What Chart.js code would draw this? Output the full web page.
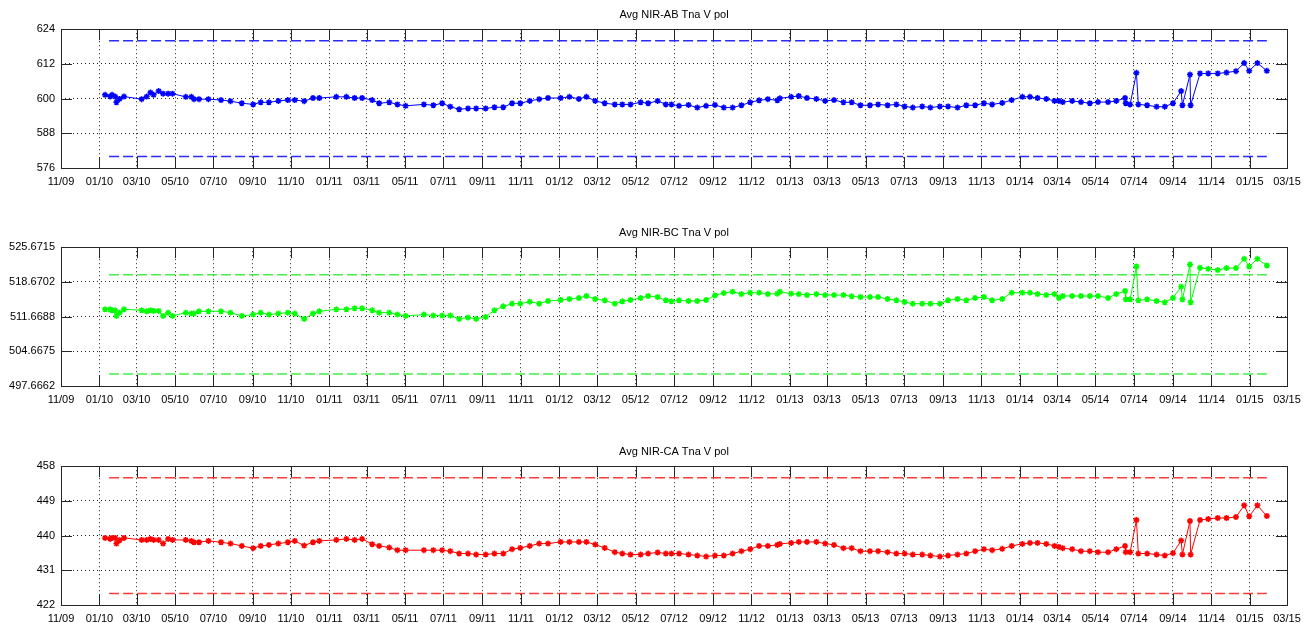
<!DOCTYPE html>
<html>
<head>
<meta charset="utf-8">
<script src="https://cdn.jsdelivr.net/npm/chart.js@4.4.1/dist/chart.umd.min.js"></script>
<style>
    body { margin: 0; background: #fff; overflow: hidden; }
    canvas { position: absolute; left: 0; }
</style>
</head>
<body>
<canvas id="abChart" width="1303" height="186" style="top:0px"></canvas>
<canvas id="bcChart" width="1303" height="186" style="top:218px"></canvas>
<canvas id="caChart" width="1303" height="186" style="top:437px"></canvas>
<script>
// sample dates, shared by the three panels
var dates = [
    '2010-01-10', '2010-01-18', '2010-01-21', '2010-01-26', '2010-01-28', '2010-02-02', '2010-02-09', '2010-03-09',
    '2010-03-17', '2010-03-23', '2010-03-28', '2010-04-05', '2010-04-12', '2010-04-20', '2010-04-27', '2010-05-18',
    '2010-05-27', '2010-05-31', '2010-06-08', '2010-06-23', '2010-07-13', '2010-07-28', '2010-08-15', '2010-09-02',
    '2010-09-14', '2010-09-27', '2010-10-12', '2010-10-27', '2010-11-07', '2010-11-22', '2010-12-06', '2010-12-16',
    '2011-01-12', '2011-01-28', '2011-02-10', '2011-02-22', '2011-03-10', '2011-03-21', '2011-04-06', '2011-04-19',
    '2011-05-02', '2011-05-31', '2011-06-15', '2011-06-29', '2011-07-12', '2011-07-26', '2011-08-09', '2011-08-22',
    '2011-09-06', '2011-09-20', '2011-10-04', '2011-10-18', '2011-10-31', '2011-11-15', '2011-11-30', '2011-12-14',
    '2012-01-03', '2012-01-17', '2012-02-01', '2012-02-13', '2012-02-27', '2012-03-13', '2012-03-29', '2012-04-10',
    '2012-04-23', '2012-05-09', '2012-05-21', '2012-06-05', '2012-06-18', '2012-06-27', '2012-07-09', '2012-07-24',
    '2012-08-07', '2012-08-21', '2012-09-04', '2012-09-18', '2012-10-02', '2012-10-16', '2012-10-30', '2012-11-13',
    '2012-11-27', '2012-12-12', '2012-12-16', '2013-01-03', '2013-01-15', '2013-01-28', '2013-02-12', '2013-02-26',
    '2013-03-12', '2013-03-27', '2013-04-09', '2013-04-23', '2013-05-08', '2013-05-21', '2013-06-05', '2013-06-19',
    '2013-07-02', '2013-07-15', '2013-07-30', '2013-08-12', '2013-08-27', '2013-09-09', '2013-09-24', '2013-10-08',
    '2013-10-22', '2013-11-05', '2013-11-18', '2013-12-04', '2013-12-19', '2014-01-05', '2014-01-17', '2014-01-29',
    '2014-02-12', '2014-02-25', '2014-03-04', '2014-03-10', '2014-03-25', '2014-04-08', '2014-04-22', '2014-05-05',
    '2014-05-21', '2014-06-03', '2014-06-17', '2014-06-18', '2014-06-25', '2014-07-05', '2014-07-08', '2014-07-22',
    '2014-08-06', '2014-08-19', '2014-09-01', '2014-09-14', '2014-09-16', '2014-09-28', '2014-09-29', '2014-10-14',
    '2014-10-27', '2014-11-11', '2014-11-25', '2014-12-10', '2014-12-23', '2014-12-31', '2015-01-13', '2015-01-28'
];

var abValues = [
    601.3, 600.7, 601.3, 600.7, 598.7, 599.9, 600.7, 599.8, 600.7, 602.1, 601.3, 602.6, 601.7, 601.7, 601.7, 600.6,
    600.6, 599.8, 599.8, 599.8, 599.5, 599.1, 598.4, 598.0, 598.7, 598.7, 599.2, 599.5, 599.5, 599.1, 600.2, 600.2,
    600.6, 600.6, 600.2, 600.2, 599.5, 598.4, 598.7, 598.0, 597.5, 598.0, 597.7, 598.4, 597.2, 596.3, 596.6, 596.6,
    596.6, 597.0, 597.0, 598.4, 598.4, 599.2, 599.8, 600.2, 600.2, 600.6, 599.9, 600.6, 599.2, 598.4, 598.0, 598.0,
    598.0, 598.7, 598.4, 599.2, 598.0, 598.0, 597.5, 597.8, 596.9, 597.5, 597.8, 596.9, 596.9, 597.7, 598.7, 599.4,
    599.8, 599.4, 600.1, 600.6, 600.9, 600.2, 599.9, 599.2, 599.5, 598.7, 598.7, 597.7, 597.7, 598.0, 597.7, 598.0,
    597.3, 596.9, 597.3, 596.9, 597.3, 597.3, 596.9, 597.7, 597.7, 598.4, 598.0, 598.5, 599.5, 600.6, 600.6, 600.2,
    599.9, 599.2, 599.2, 598.8, 599.2, 598.8, 598.4, 598.8, 598.8, 599.2, 600.2, 598.4, 598.0, 608.9, 598.0, 597.7,
    597.2, 597.2, 598.4, 602.6, 597.7, 608.3, 597.7, 608.7, 608.7, 608.7, 609.0, 609.5, 612.3, 609.6, 612.3, 609.6
];

var bcValues = [
    513.14, 513.14, 512.94, 512.94, 511.80, 512.47, 513.14, 512.94, 512.74, 512.94, 512.81, 512.81, 511.80, 512.47, 511.80, 512.47,
    512.27, 512.27, 512.74, 512.74, 512.74, 512.47, 511.80, 512.07, 512.47, 512.07, 512.27, 512.47, 512.27, 511.20, 512.27, 512.74,
    513.14, 513.14, 513.34, 513.34, 512.94, 512.47, 512.47, 512.07, 511.80, 512.07, 511.87, 511.87, 511.87, 511.20, 511.47, 511.20,
    511.60, 512.94, 513.74, 514.28, 514.28, 514.68, 514.28, 514.82, 515.02, 515.22, 515.42, 515.82, 515.22, 514.95, 514.28, 514.75,
    515.02, 515.42, 515.82, 515.62, 514.95, 514.75, 514.95, 514.82, 514.82, 515.02, 515.95, 516.42, 516.69, 516.22, 516.49, 516.49,
    516.22, 516.29, 516.69, 516.29, 516.22, 516.02, 516.22, 516.02, 516.02, 516.02, 515.75, 515.62, 515.62, 515.62, 515.22, 514.95,
    514.61, 514.28, 514.28, 514.28, 514.28, 514.95, 515.22, 514.95, 515.42, 515.62, 514.95, 515.22, 516.49, 516.49, 516.49, 516.22,
    516.02, 516.22, 515.42, 515.82, 515.82, 515.82, 515.82, 515.82, 515.42, 516.22, 516.83, 515.15, 515.15, 521.78, 514.95, 515.15,
    514.82, 514.55, 515.42, 517.70, 515.15, 522.19, 514.55, 521.52, 521.31, 521.05, 521.45, 521.45, 523.32, 521.78, 523.32, 521.98
];

var caValues = [
    439.40, 439.14, 439.40, 439.40, 437.93, 438.79, 439.40, 438.88, 438.88, 439.14, 438.88, 438.88, 437.93, 439.14, 438.88, 438.88,
    438.62, 438.28, 438.28, 438.62, 438.28, 437.93, 437.33, 436.73, 437.33, 437.59, 437.93, 438.28, 438.62, 437.42, 438.28, 438.62,
    438.88, 439.14, 438.88, 439.14, 437.76, 437.33, 436.90, 436.21, 436.21, 436.21, 436.21, 436.21, 435.95, 435.35, 435.35, 435.09,
    435.09, 435.35, 435.35, 436.47, 436.81, 437.33, 437.93, 437.93, 438.36, 438.36, 438.36, 438.36, 437.67, 436.81, 435.69, 435.35,
    435.09, 435.09, 435.35, 435.61, 435.35, 435.35, 435.35, 435.09, 434.83, 434.57, 434.83, 434.83, 435.35, 435.95, 436.47, 437.33,
    437.33, 437.59, 437.85, 438.11, 438.36, 438.36, 438.36, 437.93, 437.59, 436.73, 436.73, 435.95, 435.95, 435.95, 435.69, 435.35,
    435.35, 435.09, 435.09, 434.83, 434.57, 434.83, 435.09, 435.35, 435.95, 436.47, 436.21, 436.56, 437.33, 437.85, 438.11, 438.11,
    437.85, 437.33, 437.07, 436.73, 436.47, 435.95, 435.95, 435.69, 435.69, 436.47, 437.33, 435.69, 435.69, 444.05, 435.35, 435.35,
    435.09, 434.83, 435.44, 438.71, 435.09, 443.79, 435.09, 444.05, 444.31, 444.56, 444.56, 444.82, 447.84, 445.00, 447.84, 445.08
];

// lower / upper limit lines
var abLimits = [580, 620];
var bcLimits = [500.1, 520.1];
var caLimits = [425, 455];

// y tick labels
var abTicks = ['576', '588', '600', '612', '624'];
var bcTicks = ['497.6662', '504.6675', '511.6688', '518.6702', '525.6715'];
var caTicks = ['422', '431', '440', '449', '458'];

// x tick labels (mm/yy)
var xTicks = [
    '11/09', '01/10', '03/10', '05/10', '07/10', '09/10', '11/10', '01/11', '03/11', '05/11', '07/11',
    '09/11', '11/11', '01/12', '03/12', '05/12', '07/12', '09/12', '11/12', '01/13', '03/13', '05/13',
    '07/13', '09/13', '11/13', '01/14', '03/14', '05/14', '07/14', '09/14', '11/14', '01/15', '03/15'
];

var DAY0 = Date.UTC(2009, 10, 1);
function dayOf(iso) {
    var p = iso.split('-');
    return (Date.UTC(+p[0], +p[1] - 1, +p[2]) - DAY0) / 86400000;
}
function tickDay(lbl) {
    var p = lbl.split('/');
    return (Date.UTC(2000 + +p[1], +p[0] - 1, 1) - DAY0) / 86400000;
}

var tickFont = { family: 'Liberation Sans, Arial, sans-serif', size: 11 };

// box around plot area with inward tick marks on all four sides
var boxPlugin = {
    id: 'matBox',
    afterDatasetsDraw: function (chart) {
        var ctx = chart.ctx, a = chart.chartArea;
        var xs = chart.scales.x, ys = chart.scales.y, len = 11;
        ctx.save();
        ctx.strokeStyle = '#262626';
        ctx.lineWidth = 1;
        ctx.beginPath();
        xs.ticks.forEach(function (t) {
            var px = Math.round(xs.getPixelForValue(t.value)) + 0.5;
            ctx.moveTo(px, a.top); ctx.lineTo(px, a.top + len);
            ctx.moveTo(px, a.bottom); ctx.lineTo(px, a.bottom - len);
        });
        ys.ticks.forEach(function (t) {
            var py = Math.round(ys.getPixelForValue(t.value)) + 0.5;
            ctx.moveTo(a.left, py); ctx.lineTo(a.left + len, py);
            ctx.moveTo(a.right, py); ctx.lineTo(a.right - len, py);
        });
        ctx.stroke();
        ctx.strokeRect(Math.round(a.left) + 0.5, Math.round(a.top) + 0.5,
            Math.round(a.right - a.left), Math.round(a.bottom - a.top));
        ctx.restore();
    }
};

function makePanel(id, title, values, limits, yTicks, color, dashColor) {
    var first = dayOf(dates[0]), last = dayOf(dates[dates.length - 1]);
    var points = dates.map(function (d, i) { return { x: dayOf(d), y: values[i] }; });
    function limitLine(v) {
        return {
            data: [{ x: first, y: v }, { x: last, y: v }],
            borderColor: dashColor,
            borderWidth: 1.5,
            borderDash: [10, 4],
            borderDashOffset: 10,
            pointRadius: 0
        };
    }
    new Chart(document.getElementById(id).getContext('2d'), {
        type: 'line',
        data: {
            datasets: [{
                data: points,
                borderColor: color,
                backgroundColor: color,
                borderWidth: 1,
                pointStyle: 'star',
                pointRadius: 3,
                pointBorderWidth: 1.5,
                pointBorderColor: color
            }, limitLine(limits[0]), limitLine(limits[1])]
        },
        options: {
            responsive: false,
            animation: false,
            devicePixelRatio: 1,
            layout: { padding: { left: 0, right: 16, top: 0, bottom: 0 } },
            plugins: {
                legend: { display: false },
                tooltip: { enabled: false },
                title: {
                    display: true,
                    text: title,
                    fullSize: false,
                    color: '#000',
                    font: { family: 'Liberation Sans, Arial, sans-serif', size: 11, weight: 'normal' },
                    padding: { top: 8, bottom: 8 }
                }
            },
            scales: {
                x: {
                    type: 'linear',
                    min: tickDay(xTicks[0]),
                    max: tickDay(xTicks[xTicks.length - 1]),
                    afterBuildTicks: function (s) {
                        s.ticks = xTicks.map(function (l) { return { value: tickDay(l) }; });
                    },
                    afterFit: function (s) {
                        s.height = 18;
                        s.paddingLeft = 0;
                        s.paddingRight = 0;
                    },
                    ticks: {
                        autoSkip: false,
                        maxRotation: 0,
                        padding: 7,
                        color: '#000',
                        font: tickFont,
                        callback: function (v, i) { return xTicks[i]; }
                    },
                    grid: { color: '#222', lineWidth: 1, drawTicks: false },
                    border: { display: false, dash: [1, 3] }
                },
                y: {
                    min: parseFloat(yTicks[0]),
                    max: parseFloat(yTicks[yTicks.length - 1]),
                    afterBuildTicks: function (s) {
                        s.ticks = yTicks.map(function (l) { return { value: parseFloat(l) }; });
                    },
                    afterFit: function (s) {
                        s.width = 61;
                        s.paddingTop = 0;
                        s.paddingBottom = 0;
                    },
                    ticks: {
                        padding: 6,
                        color: '#000',
                        font: tickFont,
                        callback: function (v, i) { return yTicks[i]; }
                    },
                    grid: { color: '#222', lineWidth: 1, drawTicks: false },
                    border: { display: false, dash: [1, 3] }
                }
            }
        },
        plugins: [boxPlugin]
    });
}

makePanel('abChart', 'Avg NIR-AB Tna V pol', abValues, abLimits, abTicks, '#0000ff', '#2b2bff');
makePanel('bcChart', 'Avg NIR-BC Tna V pol', bcValues, bcLimits, bcTicks, '#00ff00', '#44ee44');
makePanel('caChart', 'Avg NIR-CA Tna V pol', caValues, caLimits, caTicks, '#ff0000', '#ff3b3b');
</script>
</body>
</html>
